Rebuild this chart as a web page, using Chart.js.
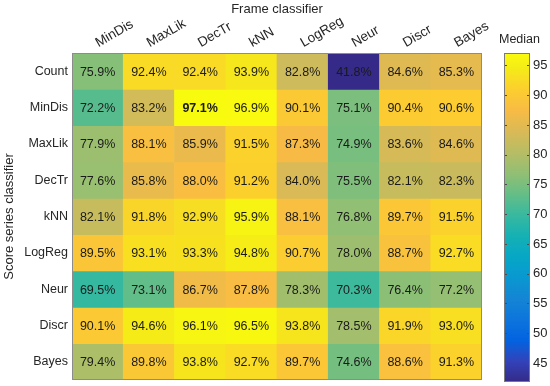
<!DOCTYPE html>
<html>
<head>
<meta charset="utf-8">
<script src="https://cdn.jsdelivr.net/npm/chart.js@4.4.1/dist/chart.umd.min.js"></script>
<style>
  html, body { margin: 0; padding: 0; background: #fff; }
  #wrap { position: relative; width: 550px; height: 386px; overflow: hidden; }
  #heat { position: absolute; left: 0; top: 0; }
  #bar { position: absolute; left: 495px; top: 0; }
</style>
</head>
<body>
<div id="wrap">
  <canvas id="heat" width="550" height="386"></canvas>
  <canvas id="bar" width="55" height="386"></canvas>
</div>
<script>
const frameClassifiers = ["MinDis", "MaxLik", "DecTr", "kNN", "LogReg", "Neur", "Discr", "Bayes"];
const seriesClassifiers = ["Count", "MinDis", "MaxLik", "DecTr", "kNN", "LogReg", "Neur", "Discr", "Bayes"];

const countRow  = [75.9, 92.4, 92.4, 93.9, 82.8, 41.8, 84.6, 85.3];
const minDisRow = [72.2, 83.2, 97.1, 96.9, 90.1, 75.1, 90.4, 90.6];
const maxLikRow = [77.9, 88.1, 85.9, 91.5, 87.3, 74.9, 83.6, 84.6];
const decTrRow  = [77.6, 85.8, 88.0, 91.2, 84.0, 75.5, 82.1, 82.3];
const knnRow    = [82.1, 91.8, 92.9, 95.9, 88.1, 76.8, 89.7, 91.5];
const logRegRow = [89.5, 93.1, 93.3, 94.8, 90.7, 78.0, 88.7, 92.7];
const neurRow   = [69.5, 73.1, 86.7, 87.8, 78.3, 70.3, 76.4, 77.2];
const discrRow  = [90.1, 94.6, 96.1, 96.5, 93.8, 78.5, 91.9, 93.0];
const bayesRow  = [79.4, 89.8, 93.8, 92.7, 89.7, 74.6, 88.6, 91.3];
const medianValues = [countRow, minDisRow, maxLikRow, decTrRow, knnRow, logRegRow, neurRow, discrRow, bayesRow];

const colorTicks = [45, 50, 55, 60, 65, 70, 75, 80, 85, 90, 95];

// parula, sampled from the 64-entry map
const PARULA = [
    [0, "#352a87"], [4, "#3243ba"], [8, "#0363e1"], [12, "#0d75dc"], [16, "#1485d4"],
    [20, "#0998d1"], [24, "#06a7c6"], [28, "#15b1b4"], [32, "#38b99e"], [36, "#65be86"],
    [40, "#92bf73"], [44, "#b7bd64"], [48, "#d9ba56"], [52, "#f8bb44"], [56, "#fcce2e"],
    [60, "#f5eb18"], [63, "#f9fb0e"],
].map(([i, hex]) => [i / 63, hex]);

const allValues = medianValues.flat();
const minVal = Math.min(...allValues);
const maxVal = Math.max(...allValues);

function hexToRgb(hex) {
    const n = parseInt(hex.slice(1), 16);
    return [(n >> 16) & 255, (n >> 8) & 255, n & 255];
}

function colorFor(v) {
    const t = Math.max(0, Math.min(1, (v - minVal) / (maxVal - minVal)));
    for (let i = 1; i < PARULA.length; i++) {
        const [p1, h1] = PARULA[i];
        if (t <= p1) {
            const [p0, h0] = PARULA[i - 1];
            const f = (t - p0) / (p1 - p0);
            const a = hexToRgb(h0), b = hexToRgb(h1);
            const c = a.map((x, k) => Math.round(x + (b[k] - x) * f));
            return `rgb(${c[0]},${c[1]},${c[2]})`;
        }
    }
    return PARULA[PARULA.length - 1][1];
}

const FONT_FAMILY = '"Liberation Sans", Arial, Helvetica, sans-serif';
Chart.defaults.font.family = FONT_FAMILY;
Chart.defaults.font.size = 12.5;
Chart.defaults.color = "#262626";

const cellText = {
    id: "cellText",
    afterDatasetsDraw(chart) {
        const ctx = chart.ctx;
        ctx.save();
        ctx.textAlign = "center";
        ctx.textBaseline = "middle";
        ctx.fillStyle = "#1a1a1a";
        chart.data.datasets.forEach((ds, r) => {
            chart.getDatasetMeta(r).data.forEach((bar, c) => {
                const v = medianValues[r][c];
                ctx.font = (v === maxVal ? "bold " : "") + "12.5px " + FONT_FAMILY;
                ctx.fillText(v.toFixed(1) + "%", bar.x, (bar.y + bar.base) / 2 + 1);
            });
        });
        const a = chart.chartArea;
        ctx.strokeStyle = "#8c8c8c";
        ctx.lineWidth = 1;
        ctx.strokeRect(Math.round(a.left) + 0.5, Math.round(a.top) + 0.5,
            Math.round(a.right - a.left) - 1, Math.round(a.bottom - a.top) - 1);
        ctx.restore();
    },
};

new Chart(document.getElementById("heat"), {
    type: "bar",
    data: {
        labels: frameClassifiers,
        datasets: seriesClassifiers.map((name, r) => ({
            label: name,
            data: frameClassifiers.map(() => 1),
            backgroundColor: medianValues[r].map(colorFor),
            borderWidth: 0,
            barPercentage: 1,
            categoryPercentage: 1,
        })),
    },
    options: {
        responsive: false,
        animation: false,
        events: [],
        layout: { padding: { left: 0, right: 68, top: 0, bottom: 6 } },
        plugins: { legend: { display: false }, tooltip: { enabled: false } },
        scales: {
            x: {
                type: "category",
                position: "top",
                stacked: true,
                grid: { display: false, drawTicks: false },
                border: { display: false },
                ticks: { minRotation: 30, maxRotation: 30, autoSkip: false, padding: 2, labelOffset: 7, font: { size: 13.5 } },
                title: { display: true, text: "Frame classifier", font: { size: 13 }, padding: { top: 2, bottom: 4 } },
                afterFit: (s) => { s.height = 53; s.paddingLeft = 0; s.paddingRight = 0; },
            },
            y: {
                type: "linear",
                stacked: true,
                reverse: true,
                min: 0,
                max: seriesClassifiers.length,
                grid: { display: false, drawTicks: false },
                border: { display: false },
                afterBuildTicks: (s) => { s.ticks = seriesClassifiers.map((_, i) => ({ value: i + 0.5 })); },
                ticks: { autoSkip: false, padding: 4, callback: (v) => seriesClassifiers[Math.floor(v)] },
                title: { display: true, text: "Score series classifier", font: { size: 13 }, padding: { top: 2, bottom: 0 } },
                afterFit: (s) => { s.width = 72; s.paddingTop = 0; s.paddingBottom = 0; },
            },
        },
    },
    plugins: [cellText],
});

function gradientFill(context) {
    const { ctx, chartArea, scales } = context.chart;
    if (!chartArea) return PARULA[0][1];
    const g = ctx.createLinearGradient(0, scales.y.getPixelForValue(minVal), 0, scales.y.getPixelForValue(maxVal));
    PARULA.forEach(([p, hex]) => g.addColorStop(p, hex));
    return g;
}

const colorbarFrame = {
    id: "colorbarFrame",
    afterDatasetsDraw(chart) {
        const ctx = chart.ctx;
        const a = chart.chartArea;
        const y = chart.scales.y;
        ctx.save();
        ctx.strokeStyle = "#4d4d4d";
        ctx.lineWidth = 1;
        colorTicks.forEach((t) => {
            const py = Math.round(y.getPixelForValue(t)) + 0.5;
            ctx.beginPath();
            ctx.moveTo(a.left, py); ctx.lineTo(a.left + 3, py);
            ctx.moveTo(a.right - 3, py); ctx.lineTo(a.right, py);
            ctx.stroke();
        });
        ctx.strokeStyle = "#7a7a7a";
        ctx.strokeRect(Math.round(a.left) + 0.5, Math.round(a.top) + 0.5,
            Math.round(a.right - a.left) - 1, Math.round(a.bottom - a.top) - 1);
        ctx.restore();
    },
};

new Chart(document.getElementById("bar"), {
    type: "bar",
    data: {
        labels: ["Median"],
        datasets: [{
            data: [[minVal, maxVal]],
            xAxisID: "x",
            yAxisID: "y",
            backgroundColor: gradientFill,
            borderWidth: 0,
            barPercentage: 1,
            categoryPercentage: 1,
        }],
    },
    options: {
        responsive: false,
        animation: false,
        events: [],
        layout: { padding: { left: 4, right: 0, top: 0, bottom: 4 } },
        plugins: {
            legend: { display: false },
            tooltip: { enabled: false },
            title: { display: true, align: "start", text: "Median", font: { size: 12.5, weight: "normal" }, color: "#262626", padding: { top: 32, bottom: 6 } },
        },
        scales: {
            x: { display: false },
            y: {
                position: "right",
                min: minVal,
                max: maxVal,
                grid: { display: false, drawTicks: false },
                border: { display: false },
                afterBuildTicks: (s) => { s.ticks = colorTicks.map((v) => ({ value: v })); },
                ticks: { padding: 3, font: { size: 13 } },
                afterFit: (s) => { s.width = 20; s.paddingTop = 0; s.paddingBottom = 0; },
            },
            spacer: {
                type: "linear",
                axis: "y",
                position: "left",
                display: true,
                grid: { display: false, drawTicks: false },
                border: { display: false },
                ticks: { display: false },
                afterFit: (s) => { s.width = 5; s.paddingTop = 0; s.paddingBottom = 0; },
            },
        },
    },
    plugins: [colorbarFrame],
});
</script>
</body>
</html>
